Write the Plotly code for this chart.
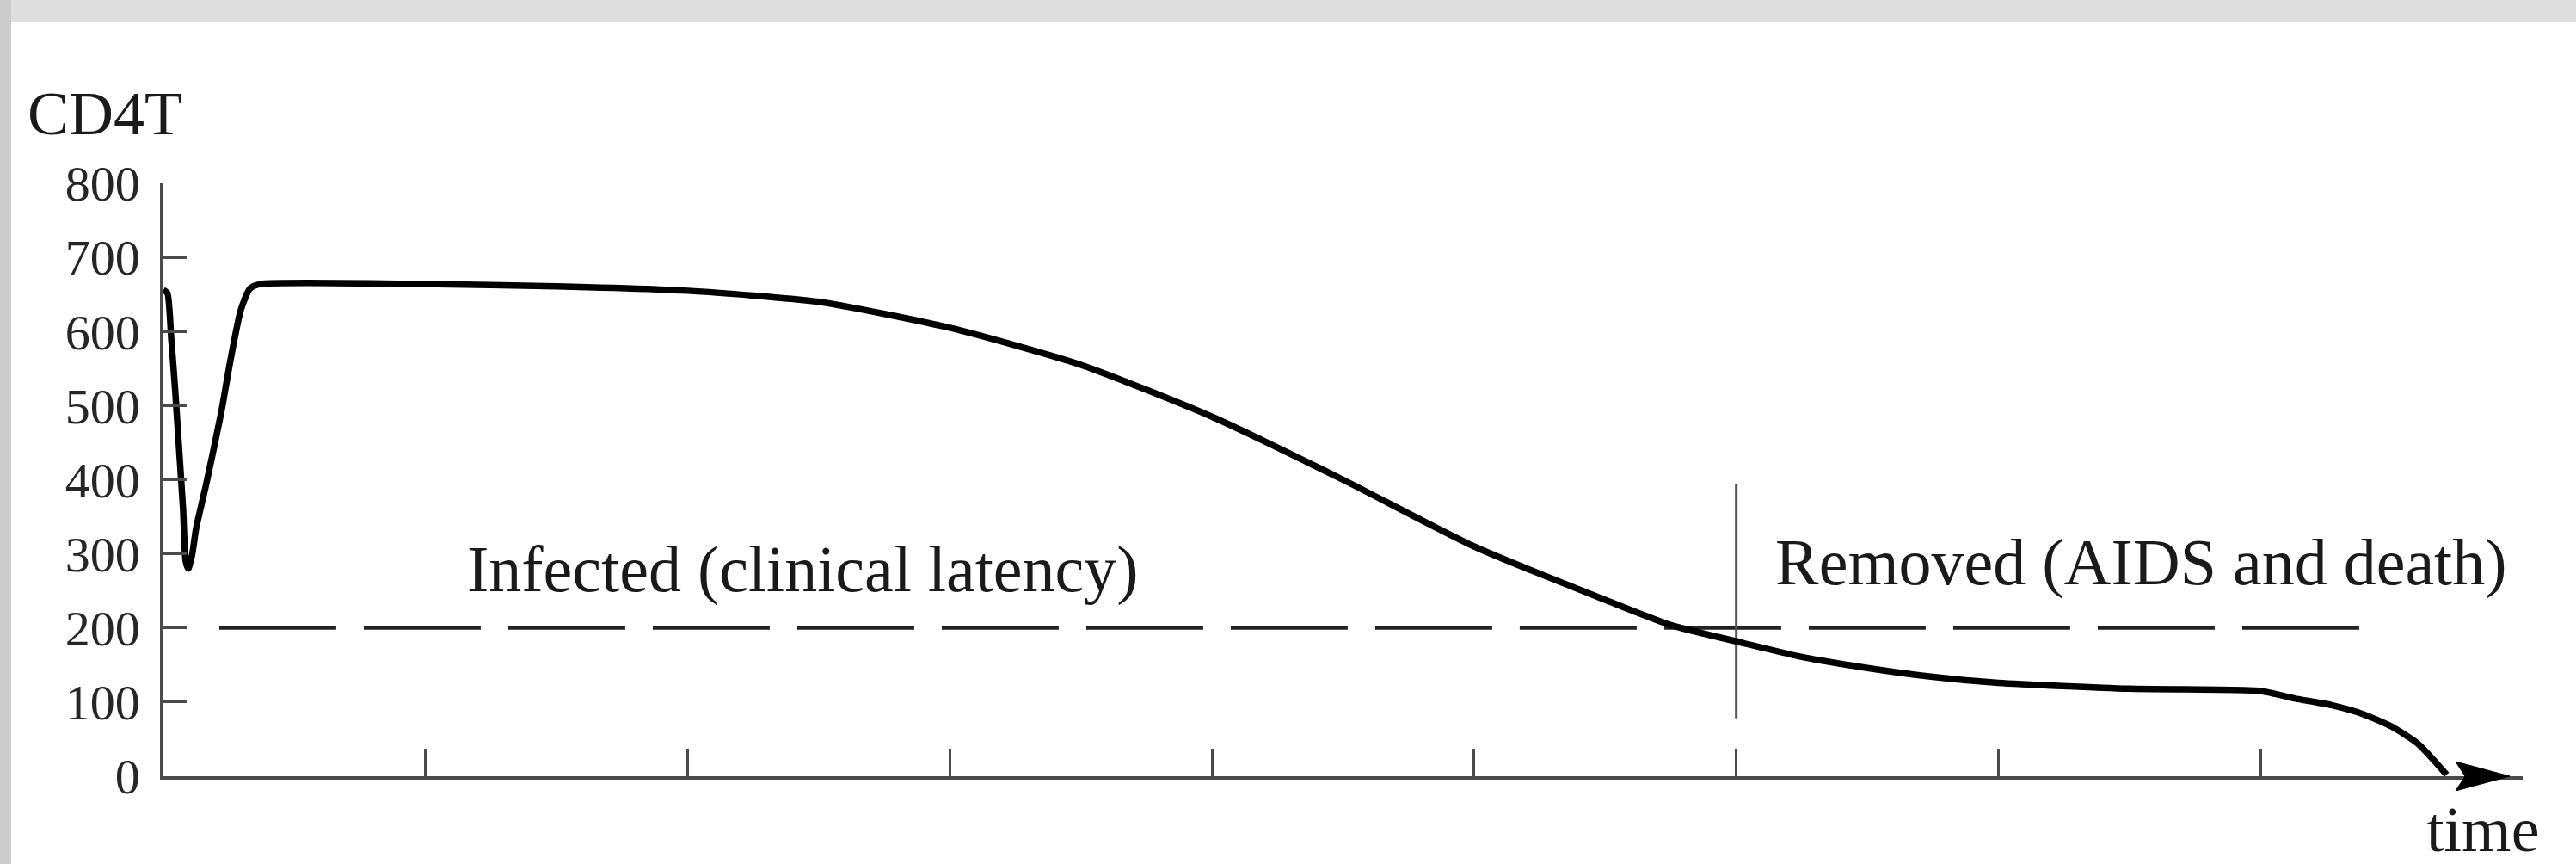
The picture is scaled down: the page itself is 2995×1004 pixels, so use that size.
import plotly.graph_objects as go

# ---- data ----
time_pts = [0.0, 0.015, 0.03, 0.045, 0.06, 0.075, 0.085, 0.095, 0.11, 0.125, 0.165,
            0.22, 0.255, 0.295, 0.33, 0.37, 1.0, 1.5, 2.0, 2.5, 3.0, 3.5, 4.0, 4.5,
            5.0, 5.5, 5.75, 6.0, 6.25, 6.5, 6.75, 7.0, 7.5, 8.0, 8.13, 8.27, 8.39,
            8.5, 8.6, 8.71]
cd4_counts = [656, 652, 590, 520, 440, 360, 290, 280, 300, 335, 397,
              490, 560, 629, 658, 664, 664, 661, 655, 640, 605, 555, 485, 400,
              310, 238, 204, 182, 161, 146, 134, 126, 118, 115, 105, 96, 84,
              67, 44, 2]

threshold_value = 200
threshold_span = [0.213, 8.425]
phase_boundary = 6
phase_boundary_span = [78, 394]

y_ticks = [0, 100, 200, 300, 400, 500, 600, 700, 800]
x_ticks = [1, 2, 3, 4, 5, 6, 7, 8]

labels = {
    "y_title": "CD4T",
    "x_title": "time",
    "infected": "Infected (clinical latency)",
    "removed": "Removed (AIDS and death)",
}

W, H = 2995, 1004
L, R, T, B = 190, 62, 213, 102
FONT = "Liberation Serif, Times New Roman, serif"
AXIS_COLOR = "#4a4a4a"

fig = go.Figure()

# threshold dashed line
fig.add_trace(go.Scatter(
    x=threshold_span, y=[threshold_value, threshold_value], mode="lines",
    line=dict(color="#222222", width=4, dash="136px,32px"),
    hoverinfo="skip", showlegend=False))

# phase boundary vertical line
fig.add_trace(go.Scatter(
    x=[phase_boundary, phase_boundary], y=phase_boundary_span, mode="lines",
    line=dict(color="#555555", width=3),
    hoverinfo="skip", showlegend=False))

# CD4 curve
fig.add_trace(go.Scatter(
    x=time_pts, y=cd4_counts, mode="lines",
    line=dict(color="#000000", width=7.5, shape="spline", smoothing=0.6),
    showlegend=False))

pw = W - L - R
ph = H - T - B
def px_x(p):
    return (p - L) / pw
def px_y(p):
    return (H - B - p) / ph

shapes = [
    # grey photo frame strips
    dict(type="rect", xref="paper", yref="paper", x0=px_x(0), x1=px_x(W),
         y0=px_y(26), y1=px_y(0), fillcolor="#dfdddf", line=dict(width=0), layer="below"),
    dict(type="rect", xref="paper", yref="paper", x0=px_x(0), x1=px_x(13),
         y0=px_y(H), y1=px_y(0), fillcolor="#cccaca", line=dict(width=0), layer="below"),
    # arrow head at end of time axis
    dict(type="path", xref="paper", yref="paper",
         path=("M {a},{b} L {c},{d} L {a},{e} L {f},{d} Z").format(
             a=px_x(2855), b=px_y(885), c=px_x(2918), d=px_y(902), e=px_y(919), f=px_x(2866)),
         fillcolor="#000000", line=dict(color="#000000", width=1)),
]

annotations = [
    dict(text=labels["y_title"], xref="paper", yref="paper", x=px_x(30), y=px_y(132),
         xanchor="left", yanchor="middle", showarrow=False,
         font=dict(family=FONT, size=72, color="#1a1a1a")),
    dict(text=labels["x_title"], xref="paper", yref="paper", x=px_x(2887), y=px_y(964),
         xanchor="center", yanchor="middle", showarrow=False,
         font=dict(family=FONT, size=74, color="#1a1a1a")),
    dict(text=labels["infected"], xref="x", yref="y", x=2.44, y=279,
         xanchor="center", yanchor="middle", showarrow=False,
         font=dict(family=FONT, size=76, color="#1a1a1a")),
    dict(text=labels["removed"], xref="x", yref="y", x=7.545, y=289,
         xanchor="center", yanchor="middle", showarrow=False,
         font=dict(family=FONT, size=76, color="#1a1a1a")),
]

fig.update_layout(
    width=W, height=H,
    margin=dict(l=L, r=R, t=T, b=B, pad=0),
    paper_bgcolor="#ffffff", plot_bgcolor="#ffffff",
    shapes=shapes, annotations=annotations,
    xaxis=dict(range=[0, 9.0], tickvals=x_ticks, showticklabels=False,
               ticks="inside", ticklen=32, tickwidth=3, tickcolor=AXIS_COLOR,
               showline=True, linecolor=AXIS_COLOR, linewidth=3.5,
               showgrid=False, zeroline=False, fixedrange=True),
    yaxis=dict(range=[0, 800], tickvals=y_ticks, ticktext=[str(v) for v in y_ticks],
               ticks="inside", ticklen=27, tickwidth=3, tickcolor=AXIS_COLOR,
               showline=True, linecolor=AXIS_COLOR, linewidth=3.5,
               ticklabelstandoff=12,
               tickfont=dict(family=FONT, size=58, color="#262626"),
               showgrid=False, zeroline=False, fixedrange=True),
)

fig.write_html("out.html", config={"displayModeBar": False},
               post_script="document.body.style.margin='0';document.body.style.overflow='hidden';")
